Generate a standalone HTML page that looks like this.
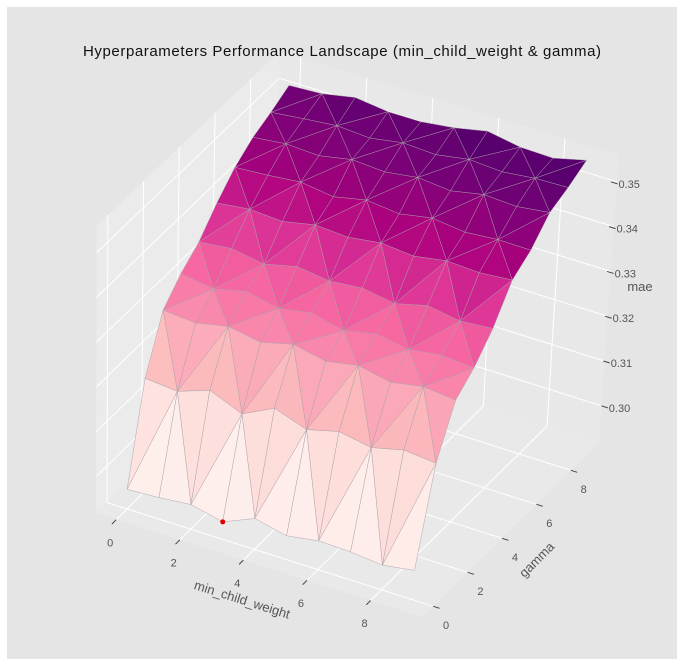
<!DOCTYPE html>
<html><head><meta charset="utf-8"><style>
body{margin:0;background:#fff;}
svg{display:block;font-family:"Liberation Sans",sans-serif;}
</style></head><body>
<svg id="chart" width="683" height="666" viewBox="0 0 683 666">
<rect x="0" y="0" width="683" height="666" fill="#ffffff"/>
<rect x="7" y="7" width="670" height="652" fill="#e5e5e5"/>
<g id="panes"></g>
<g id="grid"></g>
<g id="ticks"></g>
<g id="surface"></g>
<g id="marker"></g>
<text x="342" y="56" font-size="15" text-anchor="middle" fill="#111" textLength="518">Hyperparameters Performance Landscape (min_child_weight &amp; gamma)</text>
<text x="242" y="604" font-size="13" fill="#555" text-anchor="middle" transform="rotate(17.6 242 600)">min_child_weight</text>
<text x="537" y="564" font-size="13" fill="#555" text-anchor="middle" transform="rotate(-45 537 560)">gamma</text>
<text x="640" y="291" font-size="13" fill="#555" text-anchor="middle">mae</text>
</svg>
<script>
const xVals = [0,1,2,3,4,5,6,7,8,9];
const gammaVals = [0,1,2,3,4,5,6,7,8,9];
const maeG0 = [.2962,.2966,.2973,.2957,.2987,.2971,.2982,.2980,.2973,.2984];
const maeG1 = [.3172,.3165,.3190,.3160,.3195,.3170,.3188,.3175,.3192,.3185];
const maeG2 = [.3286,.3280,.3295,.3282,.3300,.3285,.3298,.3283,.3296,.3288];
const maeG3 = [.3330,.3318,.3335,.3320,.3332,.3315,.3330,.3318,.3328,.3322];
const maeG4 = [.3362,.3370,.3358,.3375,.3365,.3372,.3360,.3378,.3366,.3372];
const maeG5 = [.3411,.3420,.3415,.3430,.3425,.3435,.3428,.3440,.3436,.3442];
const maeG6 = [.3453,.3458,.3465,.3455,.3470,.3462,.3475,.3466,.3472,.3471];
const maeG7 = [.3482,.3490,.3486,.3500,.3495,.3505,.3498,.3512,.3508,.3517];
const maeG8 = [.3500,.3508,.3515,.3510,.3522,.3518,.3530,.3525,.3533,.3535];
const maeG9 = [.3522,.3526,.3540,.3531,.3531,.3540,.3555,.3542,.3540,.3558];
const xTicks = [0,2,4,6,8];
const gammaTicks = [0,2,4,6,8];
const zTicks = [0.30,0.31,0.32,0.33,0.34,0.35];
const zTickLabels = ["0.30","0.31","0.32","0.33","0.34","0.35"];

const rows = [maeG0,maeG1,maeG2,maeG3,maeG4,maeG5,maeG6,maeG7,maeG8,maeG9];
const NS = "http://www.w3.org/2000/svg";
const LO = -0.63, HI = 9.63, ZF = 0.2918, ZT = 0.356;
function P(x,g,z){
  const Xf = 127 + 31.8*x + 17.2*g, Yf = 509 + 10.1*x - 17*g, dz = z - ZF;
  return [Xf + (220 + (Xf-450)*0.6)*dz, Yf - 4480*dz];
}
function pts(arr){return arr.map(p=>P(p[0],p[1],p[2]).map(v=>v.toFixed(1)).join(",")).join(" ");}
function mk(tag, parent){const e=document.createElementNS(NS,tag);document.getElementById(parent).appendChild(e);return e;}

const floor = mk('polygon','panes');


floor.setAttribute('points',pts([[LO,LO,ZF],[HI,LO,ZF],[HI,HI,ZF],[LO,HI,ZF]]));
floor.setAttribute('fill','#e9e9e9');
const leftP = mk('polygon','panes');


leftP.setAttribute('points',pts([[LO,LO,ZF],[LO,HI,ZF],[LO,HI,ZT],[LO,LO,ZT]]));
leftP.setAttribute('fill','#ebebeb');
const backP = mk('polygon','panes');


backP.setAttribute('points',pts([[LO,HI,ZF],[HI,HI,ZF],[HI,HI,ZT],[LO,HI,ZT]]));
backP.setAttribute('fill','#e8e8e8');

function line(parent,a,b,stroke,w,name){
  const l = mk('polyline',parent);
  
  
  l.setAttribute('points',pts([a,b]));
  l.setAttribute('stroke',stroke);l.setAttribute('stroke-width',w);l.setAttribute('fill','none');
  return l;
}
xTicks.forEach(x=>{
  line('grid',[x,LO,ZF],[x,HI,ZF],'#fff',1,'x-gridline-floor');
  line('grid',[x,HI,ZF],[x,HI,ZT],'#fff',1,'x-gridline-back');
  line('ticks',[x,LO,ZF],[x,LO-0.25,ZF],'#444',1,'x-tick');
  const p = P(x,LO-1.63,ZF);
  const t = mk('text','ticks');
  
  
  t.setAttribute('x',p[0]+22);t.setAttribute('y',p[1]-1);t.setAttribute('font-size','11');t.setAttribute('fill','#555');t.setAttribute('text-anchor','middle');
  t.textContent = x;
});
gammaTicks.forEach(g=>{
  line('grid',[LO,g,ZF],[HI,g,ZF],'#fff',1,'gamma-gridline-floor');
  line('grid',[LO,g,ZF],[LO,g,ZT],'#fff',1,'gamma-gridline-left');
  line('ticks',[HI,g,ZF],[HI+0.2,g,ZF],'#444',1,'gamma-tick');
  const p = P(HI+0.75,g,ZF);
  const t = mk('text','ticks');
  
  
  t.setAttribute('x',p[0]-11);t.setAttribute('y',p[1]+15);t.setAttribute('font-size','11');t.setAttribute('fill','#555');t.setAttribute('text-anchor','middle');
  t.textContent = g;
});
zTicks.forEach((z,i)=>{
  line('grid',[LO,LO,z],[LO,HI,z],'#fff',1,'z-gridline-left');
  line('grid',[LO,HI,z],[HI,HI,z],'#fff',1,'z-gridline-back');
  const off = -(z-0.30)*120;
  const a = P(HI,HI,z), b = P(HI+0.2,HI,z);
  const tk = mk('line','ticks');
  
  
  tk.setAttribute('x1',a[0]+off);tk.setAttribute('y1',a[1]);tk.setAttribute('x2',b[0]+off);tk.setAttribute('y2',b[1]);
  tk.setAttribute('stroke','#444');tk.setAttribute('stroke-width','1');
  const t = mk('text','ticks');
  
  
  t.setAttribute('x',b[0]+off+1);t.setAttribute('y',b[1]+4);t.setAttribute('font-size','11');t.setAttribute('fill','#555');
  t.textContent = zTickLabels[i];
});

const cm = ['#fff7f3','#fde0dd','#fcc5c0','#fa9fb5','#f768a1','#dd3497','#ae017e','#7a0177','#49006a'];
function hex(h){return [1,3,5].map(i=>parseInt(h.substr(i,2),16));}
function cmap(t){
  t=Math.max(0,Math.min(1,t));const s=t*(cm.length-1);const i=Math.min(cm.length-2,Math.floor(s));const f=s-i;
  const a=hex(cm[i]),b=hex(cm[i+1]);
  return 'rgb('+a.map((v,k)=>Math.round(v+(b[k]-v)*f)).join(',')+')';
}
let zmin=Infinity,zmax=-Infinity,minI=0,minJ=0;
rows.forEach((r,j)=>r.forEach((v,i)=>{if(v<zmin){zmin=v;minI=i;minJ=j;} if(v>zmax)zmax=v;}));
const tris=[];
for(let j=0;j<gammaVals.length-1;j++){
  for(let i=0;i<xVals.length-1;i++){
    const a=[xVals[i],gammaVals[j],rows[j][i]], b=[xVals[i+1],gammaVals[j],rows[j][i+1]];
    const c=[xVals[i+1],gammaVals[j+1],rows[j+1][i+1]], d=[xVals[i],gammaVals[j+1],rows[j+1][i]];
    const depth = gammaVals[j] - xVals[i];
    if((i+j)%2===0){tris.push([[a,b,c],depth+0.1]);tris.push([[a,c,d],depth+0.2]);}
    else{tris.push([[a,b,d],depth+0.1]);tris.push([[b,c,d],depth+0.2]);}
  }
}
tris.sort((p,q)=>q[1]-p[1]);
tris.forEach(([tri])=>{
  const m=(tri[0][2]+tri[1][2]+tri[2][2])/3;
  const pg = mk('polygon','surface');
  
  
  pg.setAttribute('points',pts(tri));
  pg.setAttribute('fill',cmap(Math.pow((m-zmin)/(zmax-zmin),1.5)));
  pg.setAttribute('stroke','#a8a0a8');
  pg.setAttribute('stroke-width','0.45');
  pg.setAttribute('stroke-linejoin','round');
});
const mp = P(xVals[minI],gammaVals[minJ],zmin);
const dot = mk('circle','marker');


dot.setAttribute('cx',mp[0]);dot.setAttribute('cy',mp[1]);dot.setAttribute('r','2.5');dot.setAttribute('fill','#e00000');
</script>
</body></html>
